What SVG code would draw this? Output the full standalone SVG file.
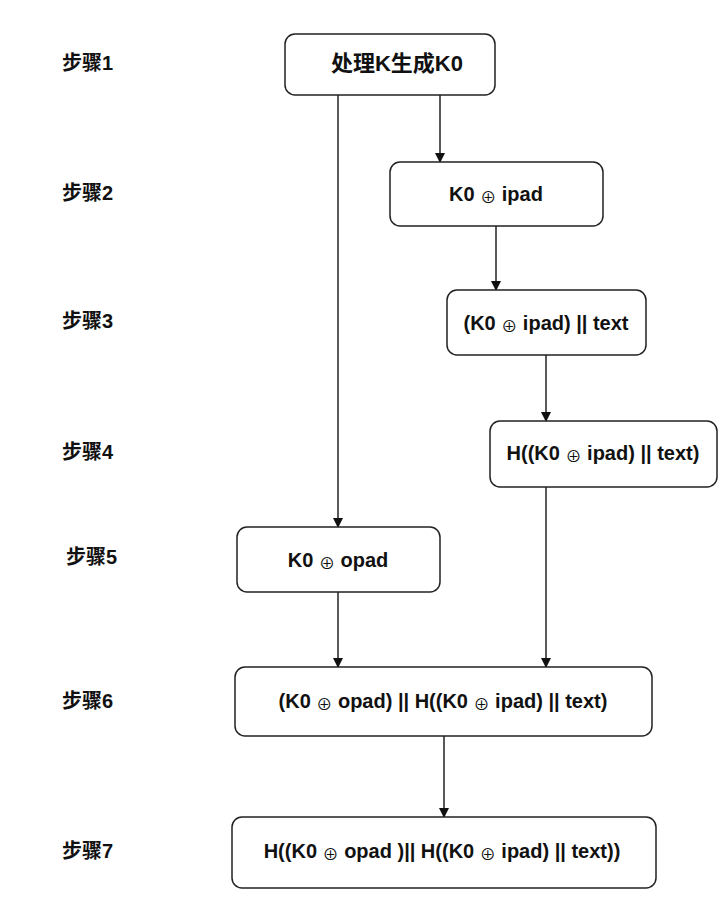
<svg xmlns="http://www.w3.org/2000/svg" width="725" height="914" viewBox="0 0 725 914">
<defs>
<marker id="arr" viewBox="0 0 10 10" refX="9" refY="5" markerWidth="10" markerHeight="10" markerUnits="userSpaceOnUse" orient="auto">
<path d="M0,0 L10,5 L0,10 Z" fill="#111"/>
</marker>
<style>
.box{fill:#fff;stroke:#222;stroke-width:1.5}
.t{font-family:"Liberation Sans","Noto Sans CJK SC",sans-serif;font-weight:bold;font-size:20px;fill:#111;text-anchor:middle;dominant-baseline:central}
.s{font-family:"Liberation Sans","Noto Sans CJK SC",sans-serif;font-weight:bold;font-size:20px;fill:#111;dominant-baseline:central}
.x{font-size:16px;font-weight:normal}
.c{stroke:#222;stroke-width:1.5;fill:none;marker-end:url(#arr)}
</style>
</defs>
<rect width="725" height="914" fill="#fff"/>
<g id="labels">
<text class="s" x="62" y="63">步骤1</text>
<text class="s" x="62" y="193">步骤2</text>
<text class="s" x="62" y="321">步骤3</text>
<text class="s" x="62" y="452">步骤4</text>
<text class="s" x="66" y="557">步骤5</text>
<text class="s" x="62" y="701">步骤6</text>
<text class="s" x="62" y="851">步骤7</text>
</g>
<g id="connectors">
<line class="c" x1="338" y1="95" x2="338" y2="527"/>
<line class="c" x1="440" y1="95" x2="440" y2="162"/>
<line class="c" x1="496" y1="226" x2="496" y2="290"/>
<line class="c" x1="546" y1="355" x2="546" y2="421"/>
<line class="c" x1="546" y1="487" x2="546" y2="667"/>
<line class="c" x1="338" y1="592" x2="338" y2="667"/>
<line class="c" x1="444" y1="736" x2="444" y2="817"/>
</g>
<g id="n1">
<rect class="box" x="285" y="34" width="210" height="61" rx="10"/>
<text class="t" x="397" y="63" style="font-size:22px">处理K生成K0</text>
</g>
<g id="n2">
<rect class="box" x="390" y="162" width="213" height="64" rx="10"/>
<text class="t" x="496" y="194">K0 <tspan class="x" dy="3">⊕</tspan><tspan dy="-3"> ipad</tspan></text>
</g>
<g id="n3">
<rect class="box" x="447" y="290" width="199" height="65" rx="10"/>
<text class="t" x="546" y="323">(K0 <tspan class="x" dy="3">⊕</tspan><tspan dy="-3"> ipad) || text</tspan></text>
</g>
<g id="n4">
<rect class="box" x="490" y="421" width="227" height="66" rx="10"/>
<text class="t" x="603" y="453">H((K0 <tspan class="x" dy="3">⊕</tspan><tspan dy="-3"> ipad) || text)</tspan></text>
</g>
<g id="n5">
<rect class="box" x="237" y="527" width="203" height="65" rx="10"/>
<text class="t" x="338" y="560">K0 <tspan class="x" dy="3">⊕</tspan><tspan dy="-3"> opad</tspan></text>
</g>
<g id="n6">
<rect class="box" x="235" y="667" width="417" height="69" rx="10"/>
<text class="t" x="443" y="701">(K0 <tspan class="x" dy="3">⊕</tspan><tspan dy="-3"> opad) || H((K0 </tspan><tspan class="x" dy="3">⊕</tspan><tspan dy="-3"> ipad) || text)</tspan></text>
</g>
<g id="n7">
<rect class="box" x="232" y="817" width="424" height="71" rx="10"/>
<text class="t" x="442" y="851">H((K0 <tspan class="x" dy="3">⊕</tspan><tspan dy="-3"> opad )|| H((K0 </tspan><tspan class="x" dy="3">⊕</tspan><tspan dy="-3"> ipad) || text))</tspan></text>
</g>
</svg>
